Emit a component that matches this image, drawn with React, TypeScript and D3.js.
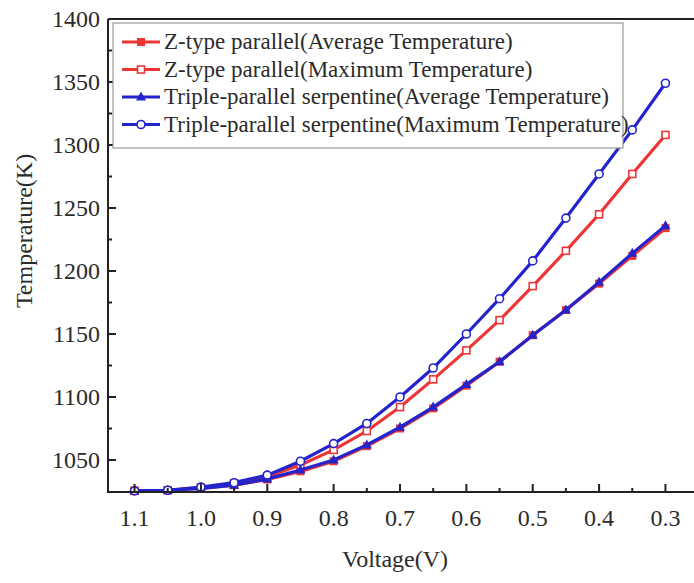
import React from "react";
import * as d3 from "d3";

const voltages = [1.1, 1.05, 1.0, 0.95, 0.9, 0.85, 0.8, 0.75, 0.7, 0.65, 0.6, 0.55, 0.5, 0.45, 0.4, 0.35, 0.3];
const zAvg = [1025.5, 1026, 1027.5, 1030, 1034.5, 1041, 1049, 1061, 1075, 1091, 1109, 1128, 1149, 1169, 1190, 1212, 1234];
const zMax = [1025.5, 1026, 1028, 1031.5, 1037, 1046, 1058, 1073, 1092, 1114, 1137, 1161, 1188, 1216, 1245, 1277, 1308];
const tAvg = [1025.5, 1026, 1027.5, 1030, 1035, 1042, 1050, 1062, 1076, 1092, 1110, 1128, 1149, 1169, 1191, 1214, 1236];
const tMax = [1025.5, 1026, 1028.5, 1032, 1038, 1049, 1063, 1079, 1100, 1123, 1150, 1178, 1208, 1242, 1277, 1312, 1349];

const seriesNames = [
  "Z-type parallel(Average Temperature)",
  "Z-type parallel(Maximum Temperature)",
  "Triple-parallel serpentine(Average Temperature)",
  "Triple-parallel serpentine(Maximum Temperature)",
];
const xTicks = [1.1, 1.0, 0.9, 0.8, 0.7, 0.6, 0.5, 0.4, 0.3];
const yTicks = [1050, 1100, 1150, 1200, 1250, 1300, 1350, 1400];

const RED = "#ee3535";
const BLUE = "#2424cc";
const FONT = "'Liberation Serif', 'Times New Roman', serif";
const TXT = "#2b2b2b";

type Kind = "square" | "squareOpen" | "triangle" | "circleOpen";

const series: { name: string; values: number[]; color: string; kind: Kind }[] = [
  { name: seriesNames[0], values: zAvg, color: RED, kind: "square" },
  { name: seriesNames[1], values: zMax, color: RED, kind: "squareOpen" },
  { name: seriesNames[2], values: tAvg, color: BLUE, kind: "triangle" },
  { name: seriesNames[3], values: tMax, color: BLUE, kind: "circleOpen" },
];

function Marker({ x, y, kind, color }: { x: number; y: number; kind: Kind; color: string }) {
  if (kind === "square") return <rect x={x - 4} y={y - 4} width={8} height={8} fill={color} />;
  if (kind === "squareOpen")
    return <rect x={x - 3.5} y={y - 3.5} width={7} height={7} fill="#fff" stroke={color} strokeWidth={1.6} />;
  if (kind === "triangle")
    return <path d={`M${x},${y - 5.5}L${x + 5},${y + 3.5}L${x - 5},${y + 3.5}Z`} fill={color} />;
  return <circle cx={x} cy={y} r={4} fill="#fff" stroke={color} strokeWidth={1.6} />;
}

export default function App() {
  const W = 694, H = 583;
  const left = 108, right = 694, top = 19, bottom = 492;
  const x = d3.scaleLinear().domain([1.14, 0.26]).range([left, 692]);
  const y = d3.scaleLinear().domain([1024.6, 1400]).range([bottom, top]);
  const line = d3.line<number>().x((_, i) => x(voltages[i])).y((v) => y(v));

  const xMinor = d3.range(0, 8).map((i) => 1.05 - i * 0.1);
  const yMinor = d3.range(0, 7).map((i) => 1075 + i * 50);

  const legendRows = [42, 69.5, 97, 124.5];

  return (
    <svg width={W} height={H} style={{ position: "absolute", left: 0, top: 0, background: "#fff" }}>
      <rect x={0} y={0} width={W} height={H} fill="#fff" />
      {/* series */}
      {series.map((s) => (
        <g key={s.name}>
          <path d={line(s.values) || ""} fill="none" stroke={s.color} strokeWidth={3.2} />
          {s.values.map((v, i) => (
            <Marker key={i} x={x(voltages[i])} y={y(v)} kind={s.kind} color={s.color} />
          ))}
        </g>
      ))}
      {/* frame */}
      <line x1={left} x2={right} y1={top} y2={top} stroke="#222" strokeWidth={2} />
      <line x1={left} x2={left} y1={top} y2={bottom} stroke="#222" strokeWidth={2} />
      <line x1={left - 1} x2={right} y1={bottom} y2={bottom} stroke="#222" strokeWidth={2} />
      {/* y ticks */}
      {yTicks.map((t) => (
        <g key={t}>
          <line x1={left} x2={left + 8} y1={y(t)} y2={y(t)} stroke="#222" strokeWidth={2} />
          <text x={100} y={y(t) + 8} textAnchor="end" fontFamily={FONT} fontSize={24} fill={TXT}>
            {t}
          </text>
        </g>
      ))}
      {yMinor.map((t) => (
        <line key={t} x1={left} x2={left + 4} y1={y(t)} y2={y(t)} stroke="#222" strokeWidth={2} />
      ))}
      {/* x ticks */}
      {xTicks.map((t) => (
        <g key={t}>
          <line x1={x(t)} x2={x(t)} y1={bottom} y2={bottom - 8} stroke="#222" strokeWidth={2} />
          <text x={x(t)} y={526} textAnchor="middle" fontFamily={FONT} fontSize={24} fill={TXT}>
            {t.toFixed(1)}
          </text>
        </g>
      ))}
      {xMinor.map((t) => (
        <line key={t} x1={x(t)} x2={x(t)} y1={bottom} y2={bottom - 4} stroke="#222" strokeWidth={2} />
      ))}
      {/* axis titles */}
      <text x={395} y={567} textAnchor="middle" fontFamily={FONT} fontSize={24} fill={TXT}>
        Voltage(V)
      </text>
      <text
        transform={`translate(32,231) rotate(-90)`}
        textAnchor="middle"
        fontFamily={FONT}
        fontSize={24}
        fill={TXT}
      >
        Temperature(K)
      </text>
      {/* legend */}
      <rect x={113} y={23} width={510} height={125} fill="#fff" stroke="#9a9a9a" strokeWidth={1.2} />
      {series.map((s, i) => (
        <g key={s.name}>
          <line x1={122} x2={160} y1={legendRows[i]} y2={legendRows[i]} stroke={s.color} strokeWidth={3} />
          <Marker x={141} y={legendRows[i]} kind={s.kind} color={s.color} />
          <text x={164} y={legendRows[i] + 7} fontFamily={FONT} fontSize={23} fill={TXT}>
            {s.name}
          </text>
        </g>
      ))}
    </svg>
  );
}
